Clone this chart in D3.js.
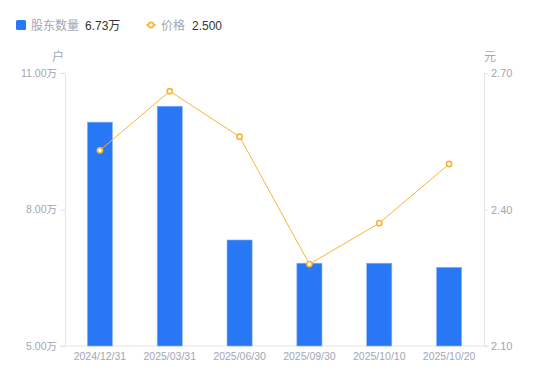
<!DOCTYPE html>
<html><head><meta charset="utf-8">
<script src="https://cdn.jsdelivr.net/npm/d3@7"></script>
<style>
html,body{margin:0;padding:0;background:#fff;}
svg{display:block;font-family:"Noto Sans CJK SC","Noto Sans",sans-serif;}
</style></head>
<body><svg id="c" width="550" height="381"></svg>
<script>
const categories = ["2024/12/31","2025/03/31","2025/06/30","2025/09/30","2025/10/10","2025/10/20"];
const holders = [9.92, 10.27, 7.33, 6.82, 6.82, 6.73]; // 万户
const prices = [2.53, 2.66, 2.56, 2.28, 2.37, 2.50];   // 元
const leftTicks = [5, 8, 11];
const rightTicks = [2.10, 2.40, 2.70];
const legendHolders = "6.73万";
const legendPrice = "2.500";

const svg = d3.select("#c");
const L = 65, R = 484, T = 73, B = 346;
const blue = "#2878f6", orange = "#fbb336", grey = "#a2a6b6";

const x = d3.scaleBand().domain(categories).range([L, R]).paddingInner(0.64).paddingOuter(0.32);
const yL = d3.scaleLinear().domain([5, 11]).range([B, T]);
const yR = d3.scaleLinear().domain([2.10, 2.70]).range([B, T]);

// axes
const gl = svg.append("g").attr("transform", `translate(${L},0)`)
  .call(d3.axisLeft(yL).tickValues(leftTicks).tickSize(5).tickPadding(3).tickFormat(d => d3.format(".2f")(d) + "万"));
const gr = svg.append("g").attr("transform", `translate(${R},0)`)
  .call(d3.axisRight(yR).tickValues(rightTicks).tickSize(4).tickPadding(3).tickFormat(d3.format(".2f")));
[gl, gr].forEach(g => {
  g.select(".domain").attr("stroke", "#e3e4e8");
  g.selectAll(".tick line").attr("stroke", "#e3e4e8");
  g.selectAll(".tick text").attr("fill", grey).attr("font-size", 10.5)
   .attr("font-family", "'Liberation Sans','Noto Sans CJK SC',sans-serif");
});
gr.selectAll(".tick text").attr("font-size", 11);

const gx = svg.append("g").attr("transform", `translate(0,${B})`)
  .call(d3.axisBottom(x).tickSize(0).tickPadding(7));
gx.select(".domain").attr("stroke", "#e3e4e8").attr("d", `M${L-5},0H${R+5}`);
gx.selectAll(".tick text").attr("fill", grey).attr("font-size", 10.5)
  .attr("font-family", "'Liberation Sans',sans-serif");

// unit labels
svg.append("text").attr("x", 58).attr("y", 61).attr("text-anchor", "middle")
  .attr("fill", grey).attr("font-size", 12).text("户");
svg.append("text").attr("x", 490).attr("y", 61).attr("text-anchor", "middle")
  .attr("fill", grey).attr("font-size", 12).text("元");

// bars
svg.append("g").selectAll("rect").data(holders).join("rect")
  .attr("x", (d, i) => x(categories[i]))
  .attr("width", x.bandwidth())
  .attr("y", d => yL(d))
  .attr("height", d => B - yL(d))
  .attr("fill", blue).attr("stroke", "#8fb6f8").attr("stroke-width", 0.6);

// line
const line = d3.line().x((d, i) => x(categories[i]) + x.bandwidth() / 2).y(d => yR(d));
svg.append("path").datum(prices).attr("d", line).attr("fill", "none")
  .attr("stroke", orange).attr("stroke-width", 1);
svg.append("g").selectAll("circle").data(prices).join("circle")
  .attr("cx", (d, i) => x(categories[i]) + x.bandwidth() / 2)
  .attr("cy", d => yR(d)).attr("r", 2.6)
  .attr("fill", "#fff").attr("stroke", orange).attr("stroke-width", 1.6);

// legend
const lg = svg.append("g");
lg.append("rect").attr("x", 16).attr("y", 20).attr("width", 10).attr("height", 10).attr("rx", 1.5).attr("fill", blue);
lg.append("text").attr("x", 31).attr("y", 29.5).attr("fill", grey).attr("font-size", 12).text("股东数量");
lg.append("text").attr("x", 85).attr("y", 29.5).attr("fill", "#333").attr("font-size", 12)
  .attr("font-family", "'Liberation Sans','Noto Sans CJK SC',sans-serif").text(legendHolders);
lg.append("line").attr("x1", 146).attr("x2", 156).attr("y1", 25).attr("y2", 25).attr("stroke", orange).attr("stroke-width", 1.5);
lg.append("circle").attr("cx", 151).attr("cy", 25).attr("r", 2.6).attr("fill", "#fff").attr("stroke", orange).attr("stroke-width", 1.6);
lg.append("text").attr("x", 161).attr("y", 29.5).attr("fill", grey).attr("font-size", 12).text("价格");
lg.append("text").attr("x", 192).attr("y", 29.5).attr("fill", "#333").attr("font-size", 12)
  .attr("font-family", "'Liberation Sans',sans-serif").text(legendPrice);
</script></body></html>
